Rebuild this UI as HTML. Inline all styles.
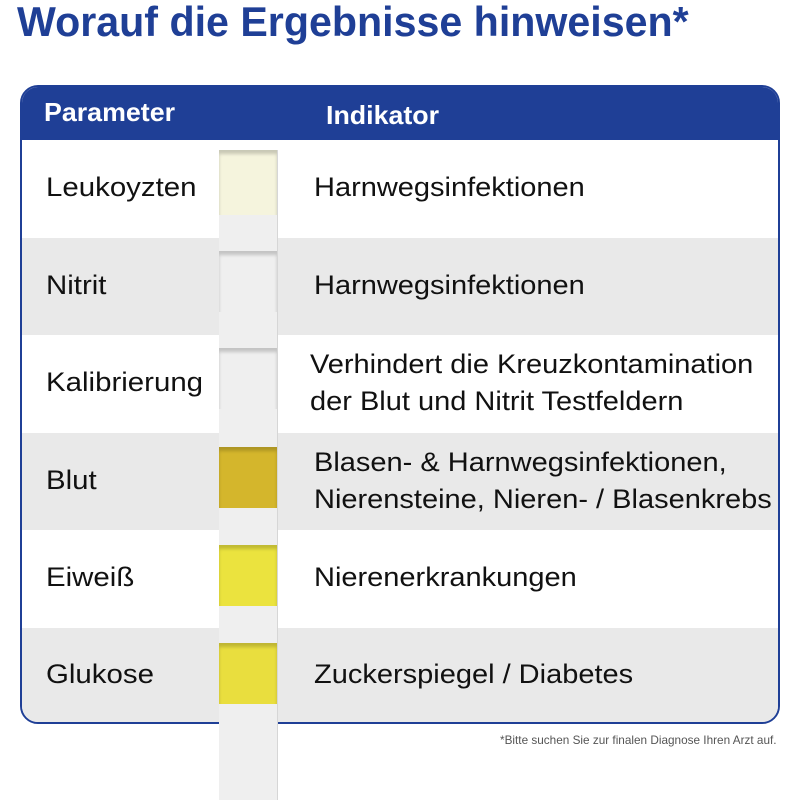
<!DOCTYPE html><html><head><meta charset="utf-8"><style>
body{margin:0;width:800px;height:800px;background:#fff;position:relative;overflow:hidden;font-family:"Liberation Sans",sans-serif}
.a{position:absolute;white-space:nowrap}
.t{left:17px;top:-2px;font-size:42px;font-weight:bold;color:#1f3f96;transform:scaleX(.98);transform-origin:left}
.box{position:absolute;left:20px;top:85px;width:756px;height:635px;border:2px solid #1f3f96;border-radius:18px;overflow:hidden;background:#fff}
.hd{position:absolute;left:0;top:0;width:100%;height:53px;background:#1f3f96}
.row{position:absolute;left:0;width:100%;height:97px}
.g{background:#e9e9e9}
.h{color:#fff;font-size:26px;font-weight:bold;transform:scaleX(1.03);transform-origin:left}
.p{font-size:27px;color:#111;transform:scaleX(1.09);transform-origin:left}
.r{transform:scaleX(1.074)}
.strip{position:absolute;left:219px;top:150px;width:58px;height:650px;background:#efefef;border-right:1px solid #d6d6d6}
.pad{position:absolute;left:219px;width:58px;height:61px;box-shadow:inset 0 4px 3px rgba(0,0,0,.18)}
</style></head><body>
<div class="a t">Worauf die Ergebnisse hinweisen*</div>
<div class="box">
<div class="hd"></div>
<div class="row g" style="top:151px"></div>
<div class="row g" style="top:346px"></div>
<div class="row g" style="top:541px"></div>
</div>
<div class="strip"></div>
<div class="pad" style="top:150px;height:65px;background:#f5f4dd"></div>
<div class="pad" style="top:251px;background:#efefef"></div>
<div class="pad" style="top:348px;background:#efefef"></div>
<div class="pad" style="top:447px;background:#d4b62c"></div>
<div class="pad" style="top:545px;background:#ebe33e"></div>
<div class="pad" style="top:643px;background:#e9de3e"></div>
<div class="a h" style="left:44px;top:97px">Parameter</div>
<div class="a h" style="left:326px;top:100px">Indikator</div>
<div class="a p" style="left:46px;top:172px">Leukoyzten</div>
<div class="a p r" style="left:314px;top:172px">Harnwegsinfektionen</div>
<div class="a p" style="left:46px;top:270px">Nitrit</div>
<div class="a p r" style="left:314px;top:270px">Harnwegsinfektionen</div>
<div class="a p" style="left:46px;top:367px">Kalibrierung</div>
<div class="a p r" style="left:310px;top:349px">Verhindert die Kreuzkontamination</div>
<div class="a p r" style="left:310px;top:386px">der Blut und Nitrit Testfeldern</div>
<div class="a p" style="left:46px;top:465px">Blut</div>
<div class="a p r" style="left:314px;top:447px">Blasen- &amp; Harnwegsinfektionen,</div>
<div class="a p r" style="left:314px;top:484px">Nierensteine, Nieren- / Blasenkrebs</div>
<div class="a p" style="left:46px;top:562px">Eiweiß</div>
<div class="a p r" style="left:314px;top:562px">Nierenerkrankungen</div>
<div class="a p" style="left:46px;top:659px">Glukose</div>
<div class="a p r" style="left:314px;top:659px">Zuckerspiegel / Diabetes</div>
<div class="a" style="left:500px;top:733px;font-size:12px;color:#555;transform:scaleX(.98);transform-origin:left">*Bitte suchen Sie zur finalen Diagnose Ihren Arzt auf.</div>
</body></html>
